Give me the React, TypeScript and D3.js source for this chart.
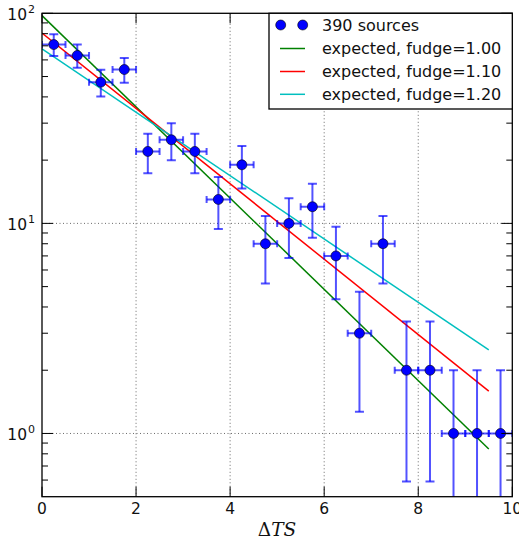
import React from "react";
import * as d3 from "d3";

const binCenters = [0.25, 0.75, 1.25, 1.75, 2.25, 2.75, 3.25, 3.75, 4.25, 4.75, 5.25, 5.75, 6.25, 6.75, 7.25, 7.75, 8.25, 8.75, 9.25, 9.75];
const counts = [71, 63, 47, 54, 22, 25, 22, 13, 19, 8, 10, 12, 7, 3, 8, 2, 2, 1, 1, 1];
const countErrors = [8.43, 7.94, 6.86, 7.35, 4.69, 5.0, 4.69, 3.61, 4.36, 2.83, 3.16, 3.46, 2.65, 1.73, 2.83, 1.41, 1.41, 1.0, 1.0, 1.0];
const halfBin = 0.25;

const lineX = [0, 9.5];
const expected100 = [97.5, 0.843];
const expected110 = [80.6, 1.59];
const expected120 = [67.7, 2.5];

const xTicks = [0, 2, 4, 6, 8, 10];
const yMajor = [1, 10, 100];
const yMajorExp = ["0", "1", "2"];
const legendLabels = ["390 sources", "expected, fudge=1.00", "expected, fudge=1.10", "expected, fudge=1.20"];

const W = 519, H = 542;
const L = 42, R = 512.3, T = 13.3, B = 496.7;

export default function App() {
  const x = d3.scaleLinear().domain([0, 10]).range([L, R]);
  const y = d3.scaleLog().domain([0.5, 100]).range([B, T]);
  const minor: number[] = [];
  [0.1, 1, 10].forEach((d) => {
    for (let k = 2; k <= 9; k++) {
      const v = d * k;
      if (v > 0.5 && v < 100) minor.push(v);
    }
  });
  const line = d3.line<[number, number]>().x((d) => x(d[0])).y((d) => y(d[1]));
  const series = [
    { vals: expected100, color: "#008000" },
    { vals: expected110, color: "#ff0000" },
    { vals: expected120, color: "#00bfbf" },
  ];
  const errColor = "rgba(0,0,255,0.68)";
  const capV = 4.5, capH = 3.5;
  const yFloor = (v: number) => (v <= 0 ? B + 5 : y(v));
  const font = "DejaVu Sans, sans-serif";
  const legendRows = [25, 48.5, 71.5, 94.3];
  return (
    <svg width={W} height={H} style={{ position: "absolute", left: 0, top: 0 }}>
      <rect x={0} y={0} width={W} height={H} fill="#fff" />
      <defs>
        <clipPath id="plot">
          <rect x={L} y={T} width={R - L} height={B - T} />
        </clipPath>
      </defs>
      {/* grid */}
      {xTicks.slice(1, -1).map((t) => (
        <line key={"gx" + t} x1={x(t)} x2={x(t)} y1={T} y2={B} stroke="#444" strokeWidth={0.8} strokeDasharray="1 2.5" />
      ))}
      {yMajor.slice(0, 2).map((t) => (
        <line key={"gy" + t} x1={L} x2={R} y1={y(t)} y2={y(t)} stroke="#444" strokeWidth={0.8} strokeDasharray="1 2.5" />
      ))}
      <g clipPath="url(#plot)">
        {series.map((s, i) => (
          <path key={i} d={line(lineX.map((xv, j) => [xv, s.vals[j]] as [number, number])) || ""} fill="none" stroke={s.color} strokeWidth={1.5} />
        ))}
        {binCenters.map((c, i) => {
          const v = counts[i];
          const e = countErrors[i];
          const cx = x(c), cy = y(v);
          const yLo = yFloor(v - e), yHi = y(v + e);
          const xl = x(c - halfBin), xr = x(c + halfBin);
          return (
            <g key={"e" + i} stroke={errColor} strokeWidth={2} fill="none">
              <line x1={cx} x2={cx} y1={yLo} y2={yHi} />
              <line x1={xl} x2={xr} y1={cy} y2={cy} />
              <line x1={cx - capV} x2={cx + capV} y1={yHi} y2={yHi} />
              <line x1={cx - capV} x2={cx + capV} y1={yLo} y2={yLo} />
              <line x1={xl} x2={xl} y1={cy - capH} y2={cy + capH} />
              <line x1={xr} x2={xr} y1={cy - capH} y2={cy + capH} />
            </g>
          );
        })}
        {binCenters.map((c, i) => (
          <circle key={"p" + i} cx={x(c)} cy={y(counts[i])} r={5} fill="#0000ff" stroke="#000" strokeWidth={0.6} />
        ))}
      </g>
      {/* ticks */}
      {xTicks.map((t) => (
        <g key={"xt" + t} stroke="#000" strokeWidth={1}>
          <line x1={x(t)} x2={x(t)} y1={B} y2={B - 10} />
          <line x1={x(t)} x2={x(t)} y1={T} y2={T + 10} />
        </g>
      ))}
      {yMajor.map((t) => (
        <g key={"ym" + t} stroke="#000" strokeWidth={1}>
          <line x1={L} x2={L + 11} y1={y(t)} y2={y(t)} />
          <line x1={R} x2={R - 11} y1={y(t)} y2={y(t)} />
        </g>
      ))}
      {minor.map((t) => (
        <g key={"yn" + t} stroke="#000" strokeWidth={1}>
          <line x1={L} x2={L + 6} y1={y(t)} y2={y(t)} />
          <line x1={R} x2={R - 6} y1={y(t)} y2={y(t)} />
        </g>
      ))}
      <rect x={L} y={T} width={R - L} height={B - T} fill="none" stroke="#000" strokeWidth={1.3} />
      {/* tick labels */}
      {xTicks.map((t) => (
        <text key={"xl" + t} x={x(t)} y={514} textAnchor="middle" fontFamily={font} fontSize={15.5} fill="#111">
          {t}
        </text>
      ))}
      {yMajor.map((t, i) => (
        <text key={"yl" + t} x={27} y={y(t) + 7} textAnchor="end" fontFamily={font} fontSize={15.5} fill="#111">
          10
          <tspan x={28} dy={-7} fontSize={11} textAnchor="start">{yMajorExp[i]}</tspan>
        </text>
      ))}
      {/* x label */}
      <text x={277} y={536} textAnchor="middle" fontFamily="DejaVu Serif, serif" fontSize={18.5} fill="#111">
        Δ<tspan fontStyle="italic">TS</tspan>
      </text>
      {/* legend */}
      <rect x={269} y={T} width={R - 269} height={109 - T} fill="#fff" stroke="#000" strokeWidth={1.3} />
      <circle cx={280.7} cy={legendRows[0]} r={5} fill="#0000ff" stroke="#000" strokeWidth={0.6} />
      <circle cx={302.7} cy={legendRows[0]} r={5} fill="#0000ff" stroke="#000" strokeWidth={0.6} />
      {series.map((s, i) => (
        <line key={"ll" + i} x1={280} x2={305} y1={legendRows[i + 1]} y2={legendRows[i + 1]} stroke={s.color} strokeWidth={1.5} />
      ))}
      {legendLabels.map((lab, i) => (
        <text key={"lt" + i} x={322} y={legendRows[i] + 5.8} fontFamily={font} fontSize={16} fill="#111">
          {lab}
        </text>
      ))}
    </svg>
  );
}
